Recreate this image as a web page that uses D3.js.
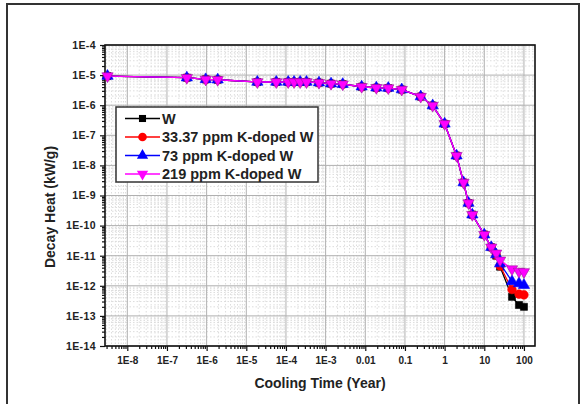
<!DOCTYPE html>
<html>
<head>
<meta charset="utf-8">
<script src="https://cdn.jsdelivr.net/npm/d3@7"></script>
<style>
  body { margin: 0; background: #fff; }
  text { font-family: "Liberation Sans", Arial, sans-serif; font-weight: bold; }
</style>
</head>
<body>
<div id="chart"></div>
<script>
// cooling time, years
const times = [3.17e-9, 3.17e-7, 9.5e-7, 1.9e-6, 1.9e-5, 5.7e-5, 1.14e-4, 1.6e-4, 2.28e-4, 3.3e-4,
  6.8e-4, 1.37e-3, 2.7e-3, 8.1e-3, 0.019, 0.038, 0.083, 0.25, 0.5, 1,
  2, 3, 4, 5, 10, 15, 20, 25, 50, 75, 100];

const heatW = [9.3e-6, 8.2e-6, 7.2e-6, 7.0e-6, 5.9e-6, 5.9e-6, 5.9e-6, 5.9e-6, 5.9e-6, 5.9e-6,
  5.6e-6, 5.2e-6, 5.0e-6, 4.1e-6, 3.8e-6, 3.7e-6, 3.3e-6, 1.93e-6, 9.7e-7, 2.4e-7,
  2.1e-8, 2.7e-9, 5.6e-10, 2.3e-10, 5.0e-11, 1.9e-11, 1.0e-11, 4.3e-12, 4.3e-13, 2.3e-13, 2.0e-13];
const heatK33 = [9.3e-6, 8.2e-6, 7.2e-6, 7.0e-6, 5.9e-6, 5.9e-6, 5.9e-6, 5.9e-6, 5.9e-6, 5.9e-6,
  5.6e-6, 5.2e-6, 5.0e-6, 4.1e-6, 3.8e-6, 3.7e-6, 3.3e-6, 1.93e-6, 9.7e-7, 2.4e-7,
  2.1e-8, 2.7e-9, 5.6e-10, 2.3e-10, 5.0e-11, 1.9e-11, 1.05e-11, 4.6e-12, 7.5e-13, 5.3e-13, 5.0e-13];
const heatK73 = [9.3e-6, 8.2e-6, 7.2e-6, 7.0e-6, 5.9e-6, 5.9e-6, 5.9e-6, 5.9e-6, 5.9e-6, 5.9e-6,
  5.6e-6, 5.2e-6, 5.0e-6, 4.1e-6, 3.8e-6, 3.7e-6, 3.3e-6, 1.93e-6, 9.7e-7, 2.4e-7,
  2.1e-8, 2.7e-9, 5.6e-10, 2.3e-10, 5.0e-11, 1.9e-11, 1.1e-11, 5.5e-12, 1.4e-12, 1.2e-12, 1.05e-12];
const heatK219 = [9.3e-6, 8.2e-6, 7.2e-6, 7.0e-6, 5.9e-6, 5.9e-6, 5.9e-6, 5.9e-6, 5.9e-6, 5.9e-6,
  5.6e-6, 5.2e-6, 5.0e-6, 4.1e-6, 3.8e-6, 3.7e-6, 3.3e-6, 1.93e-6, 9.7e-7, 2.4e-7,
  2.1e-8, 2.7e-9, 5.6e-10, 2.3e-10, 5.0e-11, 1.9e-11, 1.2e-11, 7.0e-12, 3.6e-12, 3.0e-12, 2.9e-12];

const seriesNames = ['W', '33.37 ppm K-doped W', '73 ppm K-doped W', '219 ppm K-doped W'];

const xTickValues = [1e-8, 1e-7, 1e-6, 1e-5, 1e-4, 1e-3, 0.01, 0.1, 1, 10, 100];
const xTickLabels = ['1E-8', '1E-7', '1E-6', '1E-5', '1E-4', '1E-3', '0.01', '0.1', '1', '10', '100'];
const yTickValues = [1e-4, 1e-5, 1e-6, 1e-7, 1e-8, 1e-9, 1e-10, 1e-11, 1e-12, 1e-13, 1e-14];
const yTickLabels = ['1E-4', '1E-5', '1E-6', '1E-7', '1E-8', '1E-9', '1E-10', '1E-11', '1E-12', '1E-13', '1E-14'];

const W = 583, H = 404;
const pLeft = 105, pRight = 535, pTop = 45, pBottom = 346;

const svg = d3.select('#chart').append('svg')
  .attr('width', W)
  .attr('height', H);

// outer frame
svg.append('rect')
  .attr('x', 7).attr('y', 4)
  .attr('width', 572).attr('height', 420)
  .attr('fill', 'none')
  .attr('stroke', '#333')
  .attr('stroke-width', 2);

const x = d3.scaleLog().domain([2.74e-9, 190]).range([pLeft, pRight]);
const y = d3.scaleLog().domain([1e-14, 1e-4]).range([pBottom, pTop]);

// minor values 2..9 per decade
const minors = (lo, hi) => {
  let out = [];
  for (let e = Math.floor(Math.log10(lo)); e <= Math.ceil(Math.log10(hi)); e++) {
    for (let m = 2; m <= 9; m++) {
      let v = m * Math.pow(10, e);
      if (v > lo && v < hi) out.push(v);
    }
  }
  return out;
};
const xMinor = minors(2.74e-9, 190);
const yMinor = minors(1e-14, 1e-4);

// grid
const grid = svg.append('g');
grid.selectAll('.xmin').data(xMinor).join('line')
  .attr('x1', d => x(d)).attr('x2', d => x(d))
  .attr('y1', pTop).attr('y2', pBottom)
  .attr('stroke', '#d4d4d4').attr('stroke-width', 0.8).attr('stroke-dasharray', '1.5,2');
grid.selectAll('.ymin').data(yMinor).join('line')
  .attr('y1', d => y(d)).attr('y2', d => y(d))
  .attr('x1', pLeft).attr('x2', pRight)
  .attr('stroke', '#d4d4d4').attr('stroke-width', 0.8).attr('stroke-dasharray', '1.5,2');
grid.selectAll('.xmaj').data(xTickValues).join('line')
  .attr('x1', d => x(d)).attr('x2', d => x(d))
  .attr('y1', pTop).attr('y2', pBottom)
  .attr('stroke', '#b0b0b0').attr('stroke-width', 1);
grid.selectAll('.ymaj').data(yTickValues).join('line')
  .attr('y1', d => y(d)).attr('y2', d => y(d))
  .attr('x1', pLeft).attr('x2', pRight)
  .attr('stroke', '#b0b0b0').attr('stroke-width', 1);

// axes
const xAxis = svg.append('g')
  .attr('transform', `translate(0,${pBottom})`)
  .call(d3.axisBottom(x).tickValues(xTickValues)
    .tickFormat((d, i) => xTickLabels[i]).tickSize(5).tickPadding(6));
const xAxisMinor = svg.append('g')
  .attr('transform', `translate(0,${pBottom})`)
  .call(d3.axisBottom(x).tickValues(xMinor).tickFormat('').tickSize(3));
const yAxis = svg.append('g')
  .attr('transform', `translate(${pLeft},0)`)
  .call(d3.axisLeft(y).tickValues(yTickValues)
    .tickFormat((d, i) => yTickLabels[i]).tickSize(5).tickPadding(4));
const yAxisMinor = svg.append('g')
  .attr('transform', `translate(${pLeft},0)`)
  .call(d3.axisLeft(y).tickValues(yMinor).tickFormat('').tickSize(3));

[xAxis, xAxisMinor, yAxis, yAxisMinor].forEach(a => {
  a.select('.domain').remove();
  a.selectAll('line').attr('stroke', '#111').attr('stroke-width', 1.2);
});
xAxis.selectAll('text').attr('font-size', 10).attr('fill', '#222');
yAxis.selectAll('text').attr('font-size', 10.5).attr('fill', '#222').attr('letter-spacing', 0.4);

// plot frame
svg.append('rect')
  .attr('x', pLeft).attr('y', pTop)
  .attr('width', pRight - pLeft).attr('height', pBottom - pTop)
  .attr('fill', 'none')
  .attr('stroke', '#111')
  .attr('stroke-width', 1.6);

// axis titles
svg.append('text')
  .attr('x', 320).attr('y', 388)
  .attr('text-anchor', 'middle')
  .attr('font-size', 14)
  .attr('fill', '#222')
  .text('Cooling Time (Year)');
svg.append('text')
  .attr('transform', 'translate(55,207) rotate(-90)')
  .attr('text-anchor', 'middle')
  .attr('font-size', 14)
  .attr('fill', '#222')
  .text('Decay Heat (kW/g)');

// series
const allSeries = [heatW, heatK33, heatK73, heatK219];
const colors = ['#000000', '#ff0000', '#0000ff', '#ff00ff'];
const symbols = [
  d3.symbol().type(d3.symbolSquare).size(50),
  d3.symbol().type(d3.symbolCircle).size(58),
  d3.symbol().type(d3.symbolTriangle).size(55),
  d3.symbol().type(d3.symbolTriangle).size(55)
];
const rot = [0, 0, 0, 180];

const line = d3.line()
  .x(d => x(d[0]))
  .y(d => y(d[1]));

allSeries.forEach((vals, si) => {
  let pts = times.map((t, i) => [t, vals[i]]);
  let g = svg.append('g');
  g.append('path')
    .attr('d', line(pts))
    .attr('fill', 'none')
    .attr('stroke', colors[si])
    .attr('stroke-width', 1.3);
  g.selectAll('path.m').data(pts).join('path')
    .attr('class', 'm')
    .attr('d', symbols[si])
    .attr('transform', d => `translate(${x(d[0])},${y(d[1])}) rotate(${rot[si]})`)
    .attr('fill', colors[si])
    .attr('stroke', si == 3 ? '#9b1a9b' : colors[si])
    .attr('stroke-width', 0.6);
});

// legend
const lg = svg.append('g');
lg.append('rect')
  .attr('x', 116).attr('y', 107)
  .attr('width', 202).attr('height', 75)
  .attr('fill', '#fff')
  .attr('stroke', '#333')
  .attr('stroke-width', 1.5);
seriesNames.forEach((name, i) => {
  let cy = 118.5 + i * 18.5;
  lg.append('line')
    .attr('x1', 125).attr('x2', 160)
    .attr('y1', cy).attr('y2', cy)
    .attr('stroke', colors[i]).attr('stroke-width', 1.3);
  lg.append('path')
    .attr('d', symbols[i])
    .attr('transform', `translate(142.5,${cy}) rotate(${rot[i]})`)
    .attr('fill', colors[i]);
  lg.append('text')
    .attr('x', 162).attr('y', cy + 5)
    .attr('font-size', 14.5)
    .attr('fill', '#222')
    .text(name);
});
</script>
</body>
</html>
